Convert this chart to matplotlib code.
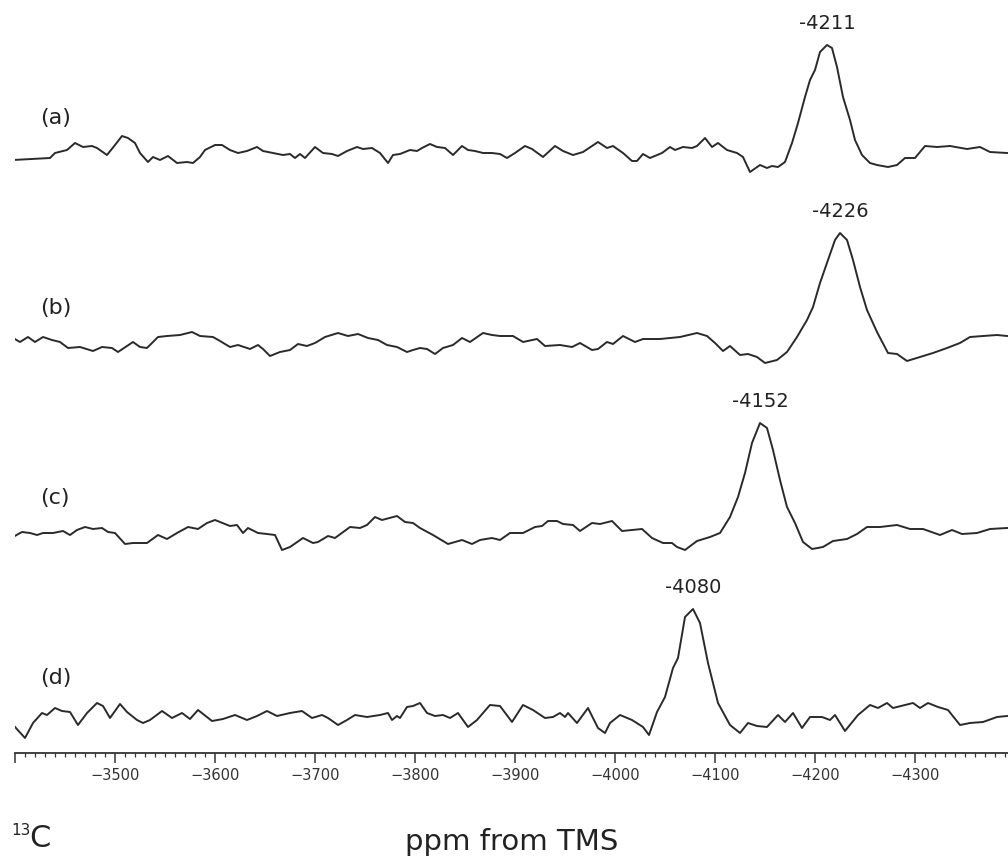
import numpy as np
import matplotlib
matplotlib.use("Agg")
import matplotlib.pyplot as plt
from matplotlib.ticker import MultipleLocator, FixedLocator

# spectra: (ppm, intensity above own baseline)
spec_a = [(-3398, 0), (-3435, 2), (-3440, 7), (-3452, 10), (-3460, 17), (-3468, 13), (-3477, 14), (-3482, 12),
          (-3492, 5), (-3500, 15), (-3507, 24), (-3513, 22), (-3520, 17), (-3525, 7), (-3533, -2), (-3538, 3),
          (-3545, 0), (-3553, 4), (-3562, -3), (-3572, -2), (-3578, -3), (-3585, 3), (-3590, 10), (-3600, 15),
          (-3607, 15), (-3615, 10), (-3623, 7), (-3632, 9), (-3642, 13), (-3648, 9), (-3658, 7), (-3668, 5),
          (-3675, 6), (-3680, 2), (-3685, 6), (-3690, 2), (-3700, 13), (-3708, 7), (-3717, 6), (-3723, 4),
          (-3732, 9), (-3742, 13), (-3748, 11), (-3757, 12), (-3765, 7), (-3773, -3), (-3778, 5), (-3785, 6),
          (-3795, 10), (-3802, 9), (-3807, 12), (-3815, 16), (-3822, 13), (-3830, 12), (-3838, 5), (-3847, 14),
          (-3853, 10), (-3860, 9), (-3868, 7), (-3877, 7), (-3885, 6), (-3892, 2), (-3900, 7), (-3910, 14),
          (-3917, 11), (-3928, 3), (-3940, 14), (-3948, 9), (-3958, 5), (-3968, 8), (-3983, 18), (-3992, 12),
          (-3998, 14), (-4008, 7), (-4017, -1), (-4022, -1), (-4028, 6), (-4035, 2), (-4047, 7), (-4055, 13),
          (-4060, 10), (-4068, 13), (-4077, 12), (-4082, 14), (-4090, 22), (-4097, 13), (-4103, 17), (-4112, 10),
          (-4122, 7), (-4128, 3), (-4135, -12), (-4145, -5), (-4152, -8), (-4157, -6), (-4163, -7), (-4170, -2),
          (-4177, 17), (-4183, 37), (-4190, 63), (-4195, 80), (-4200, 90), (-4205, 108), (-4212, 115), (-4217, 112),
          (-4222, 93), (-4228, 63), (-4235, 40), (-4240, 20), (-4247, 5), (-4255, -3), (-4262, -5), (-4273, -7),
          (-4282, -5), (-4290, 2), (-4300, 2), (-4310, 14), (-4322, 13), (-4335, 14), (-4352, 11), (-4365, 13),
          (-4375, 8), (-4392, 7)]

spec_b = [(-3398, 12), (-3405, 8), (-3413, 13), (-3420, 8), (-3428, 13), (-3437, 10), (-3445, 8), (-3453, 2),
          (-3465, 3), (-3478, -1), (-3487, 3), (-3497, 2), (-3503, -2), (-3512, 4), (-3518, 8), (-3525, 3),
          (-3532, 2), (-3543, 13), (-3552, 14), (-3565, 15), (-3577, 18), (-3585, 14), (-3598, 13), (-3605, 9),
          (-3615, 3), (-3623, 5), (-3635, 1), (-3643, 5), (-3648, 1), (-3655, -6), (-3665, -2), (-3675, 0),
          (-3683, 6), (-3692, 4), (-3700, 7), (-3710, 13), (-3723, 17), (-3733, 14), (-3743, 16), (-3753, 12),
          (-3763, 10), (-3772, 5), (-3782, 3), (-3792, -2), (-3798, 0), (-3805, 2), (-3812, 1), (-3820, -4),
          (-3828, 2), (-3838, 5), (-3847, 12), (-3855, 8), (-3868, 17), (-3877, 15), (-3885, 14), (-3898, 14),
          (-3908, 8), (-3922, 11), (-3930, 4), (-3945, 5), (-3957, 3), (-3965, 7), (-3977, 0), (-3983, 1),
          (-3992, 8), (-3998, 6), (-4008, 14), (-4020, 8), (-4028, 11), (-4045, 11), (-4065, 13), (-4082, 17),
          (-4092, 14), (-4100, 7), (-4108, -1), (-4115, 4), (-4125, -5), (-4133, -4), (-4142, -7), (-4150, -13),
          (-4162, -10), (-4172, -2), (-4182, 13), (-4192, 30), (-4198, 43), (-4205, 67), (-4213, 90), (-4220, 110),
          (-4225, 117), (-4232, 110), (-4238, 90), (-4245, 63), (-4252, 40), (-4262, 18), (-4273, -3), (-4282, -4),
          (-4292, -11), (-4305, -7), (-4318, -3), (-4332, 2), (-4345, 7), (-4355, 13), (-4368, 14), (-4382, 15),
          (-4392, 14)]

spec_c = [(-3398, 3), (-3407, 8), (-3415, 7), (-3422, 5), (-3428, 7), (-3438, 7), (-3448, 9), (-3455, 5),
          (-3462, 10), (-3470, 13), (-3478, 11), (-3487, 12), (-3493, 8), (-3500, 7), (-3510, -4), (-3518, -3),
          (-3532, -3), (-3543, 5), (-3552, 1), (-3562, 7), (-3573, 13), (-3583, 11), (-3592, 17), (-3600, 20),
          (-3615, 14), (-3622, 15), (-3628, 7), (-3633, 12), (-3643, 7), (-3652, 6), (-3660, 5), (-3667, -10),
          (-3675, -7), (-3688, 2), (-3698, -3), (-3703, -2), (-3713, 4), (-3720, 2), (-3735, 13), (-3745, 12),
          (-3752, 15), (-3760, 23), (-3767, 20), (-3782, 24), (-3790, 18), (-3798, 17), (-3805, 12), (-3818, 5),
          (-3833, -4), (-3847, 0), (-3857, -4), (-3865, 0), (-3877, 2), (-3885, 0), (-3895, 7), (-3908, 7),
          (-3920, 13), (-3927, 14), (-3933, 19), (-3942, 19), (-3948, 16), (-3958, 15), (-3965, 9), (-3977, 17),
          (-3985, 16), (-3997, 19), (-4007, 9), (-4027, 11), (-4037, 2), (-4048, -3), (-4057, -3), (-4062, -7),
          (-4070, -10), (-4082, -1), (-4095, 3), (-4105, 7), (-4115, 23), (-4123, 43), (-4130, 67), (-4137, 97),
          (-4145, 117), (-4152, 112), (-4158, 90), (-4165, 60), (-4172, 33), (-4180, 17), (-4188, -2), (-4197, -9),
          (-4208, -7), (-4218, -1), (-4232, 1), (-4242, 6), (-4252, 13), (-4265, 13), (-4282, 15), (-4295, 11),
          (-4308, 11), (-4325, 5), (-4337, 10), (-4347, 6), (-4362, 7), (-4375, 11), (-4392, 12)]

spec_d = [(-3400, -7), (-3410, -18), (-3418, -3), (-3427, 7), (-3432, 5), (-3440, 12), (-3447, 9), (-3455, 8),
          (-3463, -5), (-3472, 7), (-3482, 17), (-3488, 14), (-3495, 2), (-3505, 16), (-3512, 8), (-3522, 0),
          (-3528, -3), (-3535, 0), (-3547, 9), (-3557, 2), (-3567, 7), (-3575, 1), (-3583, 10), (-3597, -1),
          (-3608, 1), (-3620, 5), (-3632, 0), (-3642, 4), (-3652, 9), (-3662, 4), (-3675, 7), (-3687, 9),
          (-3697, 2), (-3707, 5), (-3713, 2), (-3723, -5), (-3732, 0), (-3740, 5), (-3752, 3), (-3765, 5),
          (-3773, 7), (-3777, 0), (-3782, 4), (-3785, 2), (-3792, 13), (-3798, 14), (-3805, 17), (-3812, 7),
          (-3820, 4), (-3828, 5), (-3835, 2), (-3843, 7), (-3853, -7), (-3862, 0), (-3868, 7), (-3875, 15),
          (-3885, 14), (-3897, -2), (-3908, 15), (-3918, 10), (-3930, 2), (-3938, 3), (-3945, 7), (-3950, 3),
          (-3953, 7), (-3962, -3), (-3973, 12), (-3983, -8), (-3990, -13), (-3995, -3), (-4005, 5), (-4017, 0),
          (-4028, -7), (-4034, -15), (-4042, 8), (-4050, 23), (-4058, 52), (-4063, 62), (-4070, 103), (-4078, 111),
          (-4085, 97), (-4093, 57), (-4103, 17), (-4115, -5), (-4125, -13), (-4133, -3), (-4142, -6), (-4152, -7),
          (-4163, 5), (-4170, -2), (-4178, 7), (-4187, -8), (-4195, 3), (-4207, 3), (-4215, 0), (-4220, 5),
          (-4230, -11), (-4243, 5), (-4255, 15), (-4263, 12), (-4272, 17), (-4278, 12), (-4290, 15), (-4298, 17),
          (-4305, 12), (-4313, 17), (-4323, 13), (-4333, 10), (-4345, -5), (-4355, -3), (-4368, -2), (-4382, 3),
          (-4392, 4)]

spectra = [spec_a, spec_b, spec_c, spec_d]
trace_names = ["(a)", "(b)", "(c)", "(d)"]
peak_labels = ["-4211", "-4226", "-4152", "-4080"]
offsets = [593, 403, 213, 33]   # vertical stacking of the traces

line_color = "#2a2a2a"

fig = plt.figure(figsize=(10.08, 8.63), dpi=100)
ax = fig.add_axes([15 / 1008, 110 / 863, 993 / 1008, 753 / 863])

for spec, name, peak_txt, off in zip(spectra, trace_names, peak_labels, offsets):
    xy = np.array(spec, dtype=float)
    ax.plot(xy[:, 0], xy[:, 1] + off, color=line_color, lw=1.4, solid_joinstyle="round")
    # name of the trace on the left
    ax.text(-3425, off + 42, name, fontsize=16, ha="left", va="center", color="#222222")
    # peak position over the maximum
    i = np.argmax(xy[:, 1])
    ax.text(xy[i, 0], xy[i, 1] + off + 12, peak_txt, fontsize=14, ha="center", va="bottom",
            color="#222222")

ax.set_xlim(-3400, -4393)
ax.set_ylim(0, 753)

for s in ["left", "right", "top"]:
    ax.spines[s].set_visible(False)
ax.spines["bottom"].set_linewidth(1.3)
ax.spines["bottom"].set_color("#333333")
ax.set_yticks([])

major = [-3400, -3500, -3600, -3700, -3800, -3900, -4000, -4100, -4200, -4300]
ax.xaxis.set_major_locator(FixedLocator(major))
ax.set_xticklabels([""] + [f"\u2212{-m}" for m in major[1:]])
ax.xaxis.set_minor_locator(MultipleLocator(10))
ax.tick_params(axis="x", which="major", direction="out", length=7, width=1.1, pad=4,
               labelsize=10.5, colors="#333333")
ax.tick_params(axis="x", which="minor", direction="out", length=3, width=0.9, colors="#333333")

fig.text(512 / 1008, (863 - 842) / 863, "ppm from TMS", fontsize=21, ha="center", va="center",
         color="#222222")
fig.text(29 / 1008, (863 - 838) / 863, "C", fontsize=22, ha="left", va="center", color="#222222")
fig.text(11 / 1008, (863 - 830) / 863, "13", fontsize=11, ha="left", va="center", color="#222222")

fig.savefig("out.png", dpi=100)
